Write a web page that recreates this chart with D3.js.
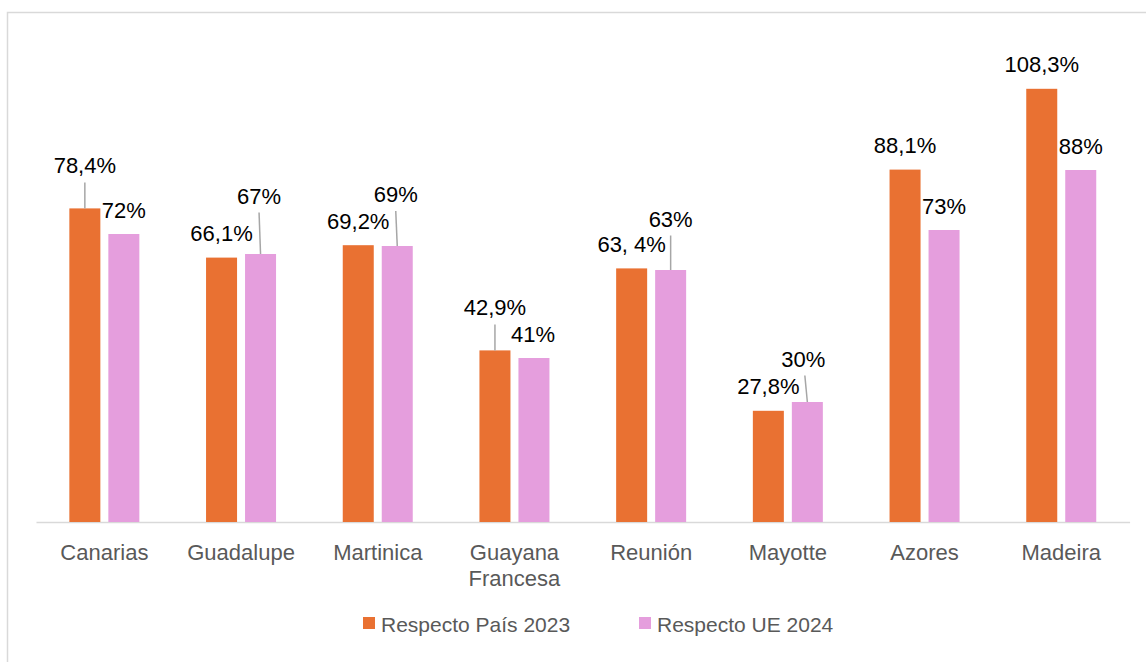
<!DOCTYPE html>
<html>
<head>
<meta charset="utf-8">
<script src="https://cdn.jsdelivr.net/npm/d3@7"></script>
<style>
  body { margin: 0; background: #fff; }
  svg { font-family: "Liberation Sans", Arial, sans-serif; }
</style>
</head>
<body>
<div id="chart"></div>
<script>
var categories = ["Canarias", "Guadalupe", "Martinica", "Guayana Francesa", "Reunión", "Mayotte", "Azores", "Madeira"];
var seriesNames = ["Respecto País 2023", "Respecto UE 2024"];
var pais2023 = [78.4, 66.1, 69.2, 42.9, 63.4, 27.8, 88.1, 108.3];
var ue2024 = [72, 67, 69, 41, 63, 30, 73, 88];
var pais2023Labels = ["78,4%", "66,1%", "69,2%", "42,9%", "63, 4%", "27,8%", "88,1%", "108,3%"];
var ue2024Labels = ["72%", "67%", "69%", "41%", "63%", "30%", "73%", "88%"];

// label placement: extra lift above the bar (px) and horizontal nudge
var liftPais = [18.5, 0, 0, 18.5, 0, 0, 0, 0];
var liftUE = [0, 34, 27.5, 0, 27, 19, 0, 0];
var nudgeUE = [0, -1.5, -1.5, -1, 0, -4, 0, 0];

var colors = ["#E97132", "#E59EDD"];

var WIDTH = 1146, HEIGHT = 662;
var MARGINS = { top: 42, right: 16.4, bottom: 140, left: 36 };

var svg = d3.select("#chart").append("svg")
  .attr("width", WIDTH).attr("height", HEIGHT);

svg.append("rect")
  .attr("x", 7.5).attr("y", 12.5)
  .attr("width", 1200).attr("height", 700)
  .attr("fill", "none").attr("stroke", "#D9D9D9").attr("stroke-width", 1.5);

var xScale = d3.scaleBand().domain(categories)
  .range([MARGINS.left, WIDTH - MARGINS.right]);
var xSub = d3.scaleBand().domain(seriesNames).range([0, 70]).paddingInner(0.205);
var yScale = d3.scaleLinear().domain([0, 120])
  .range([HEIGHT - MARGINS.bottom, MARGINS.top]);

var groupOffset = xScale.bandwidth() / 2 - 35;

var rows = categories.map(function(c, i) {
  return [
    { cat: c, s: seriesNames[0], v: pais2023[i], label: pais2023Labels[i], lift: liftPais[i], nudge: 0 },
    { cat: c, s: seriesNames[1], v: ue2024[i], label: ue2024Labels[i], lift: liftUE[i], nudge: nudgeUE[i] }
  ];
});
var flat = d3.merge(rows);

function barX(d) { return xScale(d.cat) + groupOffset + xSub(d.s); }
function barCenter(d) { return barX(d) + xSub.bandwidth() / 2; }

var gX = svg.append("g").attr("class", "xaxis")
  .attr("transform", "translate(0," + yScale(0) + ")")
  .call(d3.axisBottom(xScale).tickSize(0).tickPadding(22));

gX.select(".domain").attr("stroke", "#D9D9D9").attr("stroke-width", 1.5);
gX.selectAll("text")
  .attr("fill", "#595959")
  .style("font-size", "22px")
  .style("font-family", "Liberation Sans, Arial, sans-serif")
  .each(function(d) {
    var words = d.split(" ");
    if (words.length > 1) {
      var t = d3.select(this).text(null);
      words.forEach(function(w, k) {
        t.append("tspan").attr("x", 0).attr("dy", k == 0 ? "0.71em" : "1.18em").text(w);
      });
      t.attr("dy", null);
    }
  });

svg.append("g").selectAll("rect").data(flat).enter().append("rect")
  .attr("x", barX)
  .attr("y", function(d) { return yScale(d.v); })
  .attr("width", xSub.bandwidth())
  .attr("height", function(d) { return yScale(0) - yScale(d.v); })
  .attr("fill", function(d) { return d.s == seriesNames[0] ? colors[0] : colors[1]; });

// leader lines for labels lifted away from their bars
svg.append("g").selectAll("line").data(flat.filter(function(d) { return d.lift > 0; }))
  .enter().append("line")
  .attr("x1", function(d) { return barCenter(d) + d.nudge + (d.nudge < -2 ? 1.5 : 0); })
  .attr("y1", function(d) { return yScale(d.v) - 16.5 - d.lift + 9; })
  .attr("x2", barCenter)
  .attr("y2", function(d) { return yScale(d.v); })
  .attr("stroke", "#A6A6A6").attr("stroke-width", 1.5);

svg.append("g").selectAll("text").data(flat).enter().append("text")
  .attr("x", function(d) { return barCenter(d) + d.nudge; })
  .attr("y", function(d) { return yScale(d.v) - 16.5 - d.lift; })
  .attr("text-anchor", "middle")
  .style("font-size", "22px")
  .attr("fill", "#000")
  .text(function(d) { return d.label; });

var legend = svg.append("g").attr("class", "legend");
var legendX = [363, 639];
seriesNames.forEach(function(name, i) {
  legend.append("rect").attr("x", legendX[i]).attr("y", 617)
    .attr("width", 12).attr("height", 12).attr("fill", colors[i]);
  legend.append("text").attr("x", legendX[i] + 18).attr("y", 632)
    .style("font-size", "21px").attr("fill", "#595959").text(name);
});
</script>
</body>
</html>
